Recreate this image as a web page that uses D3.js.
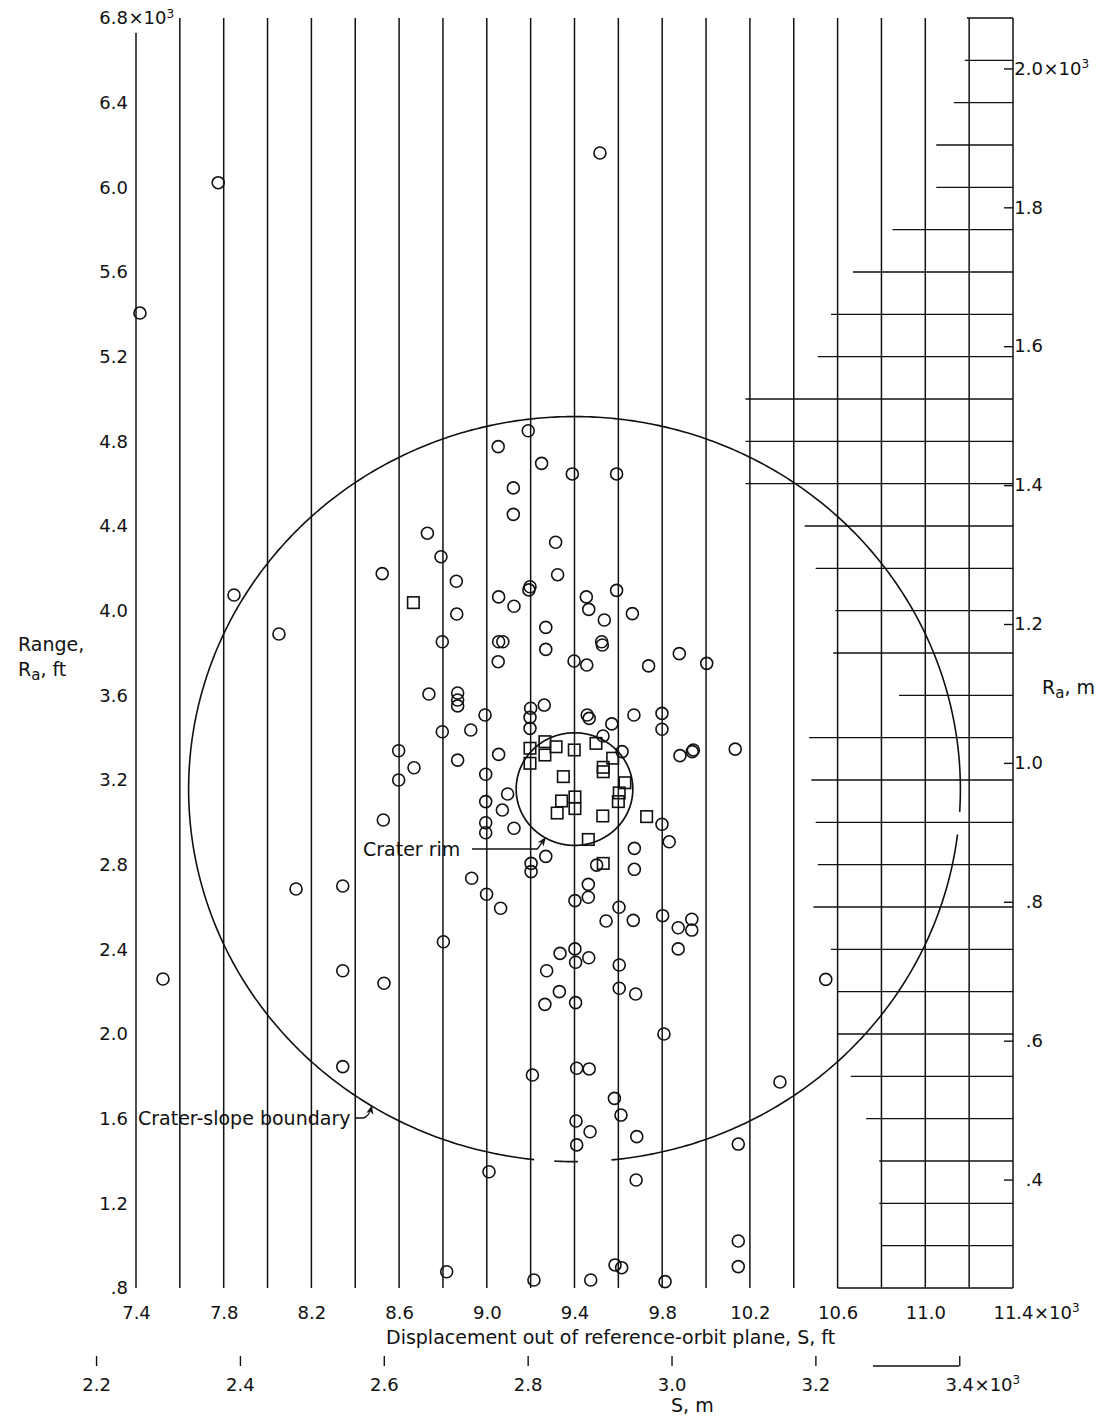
<!DOCTYPE html>
<html>
<head>
<meta charset="utf-8">
<script src="https://cdn.jsdelivr.net/npm/d3@7"></script>
<style>
  body { margin: 0; background: #fff; }
  svg { display: block; }
  text { font-family: "DejaVu Sans", sans-serif; fill: #111; }
</style>
</head>
<body>
<svg id="chart" width="1101" height="1417"></svg>
<script>
// Values in thousands of feet (ft axes) or thousands of metres (m axes)
const rangeTicksFt = [0.8, 1.2, 1.6, 2.0, 2.4, 2.8, 3.2, 3.6, 4.0, 4.4, 4.8, 5.2, 5.6, 6.0, 6.4, 6.8];
const dispTicksFt  = [7.4, 7.8, 8.2, 8.6, 9.0, 9.4, 9.8, 10.2, 10.6, 11.0, 11.4];
const rangeTicksM  = [0.4, 0.6, 0.8, 1.0, 1.2, 1.4, 1.6, 1.8, 2.0];
const dispTicksM   = [2.2, 2.4, 2.6, 2.8, 3.0, 3.2, 3.4];

// Vertical rules of the grid (S, ft)
const gridS = [7.4, 7.6, 7.8, 8.0, 8.2, 8.4, 8.6, 8.8, 9.0, 9.2, 9.4, 9.6, 9.8, 10.0,
               10.2, 10.4, 10.6, 10.8, 11.0, 11.2, 11.4];
// Horizontal rules: [Ra level, S where the rule begins]; they all run to the right edge
const gridRows = [
  [6.8, 11.19], [6.6, 11.18], [6.4, 11.13], [6.2, 11.05], [6.0, 11.05], [5.8, 10.85],
  [5.6, 10.67], [5.4, 10.57], [5.2, 10.51], [5.0, 10.18], [4.8, 10.18], [4.6, 10.18],
  [4.4, 10.45], [4.2, 10.50], [4.0, 10.59], [3.8, 10.58], [3.6, 10.88], [3.4, 10.47],
  [3.2, 10.48], [3.0, 10.50], [2.8, 10.51], [2.6, 10.49], [2.4, 10.57], [2.2, 10.60],
  [2.0, 10.60], [1.8, 10.66], [1.6, 10.73], [1.4, 10.79], [1.2, 10.79], [1.0, 10.80],
  [0.8, 10.60]
];

// Impact points [S, Ra] (thousands of ft)
const circlePoints = [
  [7.775,6.022],[9.516,6.162],[7.418,5.406],[7.847,4.074],[8.052,3.890],[7.523,2.260],
  [8.130,2.685],[8.343,2.699],[8.343,2.299],[8.343,1.846],[8.531,2.240],[10.546,2.258],
  [10.337,1.773],[10.147,1.480],[10.147,1.022],[10.147,0.901],
  [8.523,4.175],[8.528,3.011],[8.598,3.338],[8.598,3.200],[8.668,3.258],[8.729,4.366],
  [8.791,4.255],[8.861,4.139],[8.863,3.984],[8.797,3.853],[8.736,3.606],[8.867,3.611],
  [8.867,3.578],[8.867,3.550],[8.992,3.507],[8.797,3.428],[8.927,3.436],[8.867,3.294],
  [9.054,3.321],[8.995,3.227],[9.095,3.134],[8.995,3.098],[9.071,3.058],[8.995,2.998],
  [8.995,2.951],[9.124,2.972],[9.202,2.806],[9.202,2.767],[9.269,2.839],[9.501,2.798],
  [9.673,2.877],[9.673,2.778],[9.799,2.991],[9.832,2.908],
  [8.931,2.736],[8.999,2.660],[9.063,2.594],[9.463,2.707],[9.463,2.646],[9.402,2.630],
  [9.603,2.599],[9.544,2.534],[9.668,2.537],[9.802,2.559],[9.873,2.502],[9.935,2.542],
  [9.935,2.491],[9.873,2.402],[8.802,2.436],[9.334,2.381],[9.402,2.402],[9.405,2.339],
  [9.465,2.360],[9.273,2.299],[9.604,2.326],[9.331,2.200],[9.604,2.216],[9.679,2.189],
  [9.265,2.140],[9.405,2.148],[9.808,2.000],[9.410,1.838],[9.467,1.835],[9.208,1.806],
  [9.582,1.696],[9.612,1.617],[9.407,1.589],[9.471,1.538],[9.684,1.515],[9.410,1.476],
  [9.010,1.349],[9.681,1.310],[8.817,0.877],[9.215,0.838],[9.474,0.838],[9.585,0.909],
  [9.615,0.896],[9.813,0.830],
  [9.189,4.850],[9.052,4.775],[9.250,4.696],[9.390,4.646],[9.592,4.646],[9.121,4.580],
  [9.121,4.455],[9.314,4.323],[9.323,4.170],[9.197,4.113],[9.192,4.098],[9.592,4.096],
  [9.054,4.065],[9.454,4.065],[9.124,4.021],[9.465,4.006],[9.664,3.986],[9.536,3.956],
  [9.269,3.921],[9.054,3.853],[9.073,3.853],[9.269,3.817],[9.524,3.853],[9.527,3.838],
  [9.052,3.759],[9.398,3.762],[9.456,3.743],[9.738,3.739],[9.878,3.797],[10.003,3.751],
  [9.200,3.539],[9.262,3.554],[9.197,3.496],[9.197,3.444],[9.458,3.507],[9.467,3.491],
  [9.570,3.465],[9.671,3.507],[9.799,3.515],[9.799,3.440],[9.530,3.408],[9.617,3.334],
  [9.881,3.315],[9.942,3.342],[9.937,3.334],[10.133,3.346]
];
const squarePoints = [
  [8.665,4.038],[9.197,3.350],[9.265,3.381],[9.265,3.318],[9.316,3.357],[9.399,3.342],
  [9.498,3.373],[9.197,3.279],[9.574,3.303],[9.531,3.260],[9.531,3.239],[9.630,3.187],
  [9.349,3.216],[9.604,3.139],[9.600,3.098],[9.402,3.120],[9.341,3.101],[9.402,3.065],
  [9.321,3.044],[9.529,3.030],[9.729,3.027],[9.463,2.919],[9.531,2.806]
];

// Crater geometry (thousands of ft)
const craterCenter = [9.40, 3.157];
const rimRadius = 0.266;
const slopeRadius = 1.76;

const FT_PER_M = 3.28084;

const svg = d3.select("#chart");
const x = d3.scaleLinear().domain([7.4, 11.4]).range([136, 1013]);
const y = d3.scaleLinear().domain([0.8, 6.8]).range([1288, 18]);
const xM = d3.scaleLinear().domain(x.domain().map(v => v / FT_PER_M)).range(x.range());
const yM = d3.scaleLinear().domain(y.domain().map(v => v / FT_PER_M)).range(y.range());

const fmt = d => d < 1 ? "." + Math.round(d * 10) : d.toFixed(1);

// arrowhead
svg.append("defs").append("marker")
  .attr("id", "arrow").attr("viewBox", "0 0 10 10").attr("refX", 9).attr("refY", 5)
  .attr("markerWidth", 7).attr("markerHeight", 7).attr("orient", "auto")
  .append("path").attr("d", "M0,1 L10,5 L0,9 L3,5 Z").attr("fill", "#111");

// ---- grid ----
const grid = svg.append("g");
grid.selectAll("line.v").data(gridS).join("line")
  .attr("x1", d => x(d)).attr("x2", d => x(d))
  // the leftmost rule stops short of the corner label
  .attr("y1", d => d === 7.4 ? y(6.73) : y(6.8)).attr("y2", y(0.8))
  .attr("stroke", "#111").attr("stroke-width", 1.5);
grid.selectAll("line.h").data(gridRows).join("line")
  .attr("x1", d => x(d[1])).attr("x2", x(11.4))
  .attr("y1", d => y(d[0])).attr("y2", d => y(d[0]))
  .attr("stroke", "#111").attr("stroke-width", 1.3);

// ---- crater outlines ----
function ringPath(r, gaps) {
  const pts = d3.range(0, 360.5, 0.5);
  const line = d3.line()
    .defined(a => !gaps.some(g => a > g[0] && a < g[1]))
    .x(a => x(craterCenter[0] + r * Math.cos(a * Math.PI / 180)))
    .y(a => y(craterCenter[1] + r * Math.sin(a * Math.PI / 180)));
  return line(pts);
}
svg.append("path").attr("d", ringPath(slopeRadius, [[264.4, 266.8], [270.8, 275.3], [353.4, 356.5]]))
  .attr("fill", "none").attr("stroke", "#111").attr("stroke-width", 1.6);
svg.append("path").attr("d", ringPath(rimRadius, []))
  .attr("fill", "none").attr("stroke", "#111").attr("stroke-width", 1.7);

// ---- data marks ----
svg.append("g").selectAll("circle").data(circlePoints).join("circle")
  .attr("cx", d => x(d[0])).attr("cy", d => y(d[1])).attr("r", 6)
  .attr("fill", "none").attr("stroke", "#111").attr("stroke-width", 1.6);
const sq = 11.5;
svg.append("g").selectAll("rect").data(squarePoints).join("rect")
  .attr("x", d => x(d[0]) - sq / 2).attr("y", d => y(d[1]) - sq / 2)
  .attr("width", sq).attr("height", sq)
  .attr("fill", "none").attr("stroke", "#111").attr("stroke-width", 1.6);

// ---- axes ----
function styleAxis(g) {
  g.select(".domain").remove();
  g.selectAll("text").attr("font-size", 18).attr("fill", "#111")
    .attr("font-family", "DejaVu Sans, sans-serif");
  g.selectAll(".tick line").attr("stroke", "#111").attr("stroke-width", 1.4);
}
function addPower(textSel, xPos) {
  const t = d3.select(textSel.node().parentNode).append("text")
    .attr("x", xPos).attr("y", textSel.attr("y")).attr("dy", textSel.attr("dy"))
    .attr("font-size", 18).attr("text-anchor", "start").attr("fill", "#111");
  t.append("tspan").text("\u00d710");
  t.append("tspan").text("3").attr("font-size", 12).attr("dy", "-0.55em");
  return t;
}

// Left: Range, ft
const gL = svg.append("g").attr("transform", `translate(${x(7.4)},0)`)
  .call(d3.axisLeft(y).tickValues(rangeTicksFt).tickFormat(fmt).tickSize(0).tickPadding(8))
  .call(styleAxis);
gL.selectAll(".tick").filter(d => d === 6.8).each(function () {
  const txt = d3.select(this).select("text");
  addPower(txt, +txt.attr("x") + 0.5);
});

// Right: Ra, m
const gR = svg.append("g").attr("transform", `translate(${x(11.4)},0)`)
  .call(d3.axisRight(yM).tickValues(rangeTicksM).tickFormat(fmt).tickSizeInner(-9).tickSizeOuter(0))
  .call(styleAxis);
gR.selectAll(".tick text").attr("x", 30).attr("text-anchor", "end");
gR.selectAll(".tick").filter(d => d === 2.0).each(function () {
  addPower(d3.select(this).select("text"), 30.5);
});

// Bottom: S, ft
const gB = svg.append("g").attr("transform", `translate(0,${y(0.8)})`)
  .call(d3.axisBottom(x).tickValues(dispTicksFt).tickFormat(fmt).tickSize(0).tickPadding(18))
  .call(styleAxis);
gB.selectAll(".tick").filter(d => d === 11.4).each(function () {
  const txt = d3.select(this).select("text");
  addPower(txt, txt.node().getComputedTextLength() / 2 + 0.5);
});

// Bottom: S, m
const mBase = 1366;
const gM = svg.append("g").attr("transform", `translate(0,${mBase})`)
  .call(d3.axisBottom(xM).tickValues(dispTicksM).tickFormat(fmt).tickSizeInner(-10).tickSizeOuter(0).tickPadding(12))
  .call(styleAxis);
gM.selectAll(".tick").filter(d => d === 3.4).each(function () {
  const txt = d3.select(this).select("text");
  addPower(txt, txt.node().getComputedTextLength() / 2 + 0.5);
});
svg.append("line")
  .attr("x1", xM(3.28)).attr("x2", xM(3.4)).attr("y1", mBase).attr("y2", mBase)
  .attr("stroke", "#111").attr("stroke-width", 1.3);

// ---- axis titles ----
const lab = 19;
const rangeTitle = svg.append("text").attr("font-size", lab);
rangeTitle.append("tspan").attr("x", 18).attr("y", 651).text("Range,");
const raFt = rangeTitle.append("tspan").attr("x", 18).attr("y", 676);
raFt.append("tspan").text("R");
raFt.append("tspan").text("a").attr("font-size", 15).attr("dy", 4);
raFt.append("tspan").text(", ft").attr("dy", -4);

const raM = svg.append("text").attr("font-size", lab).attr("x", 1042).attr("y", 694);
raM.append("tspan").text("R");
raM.append("tspan").text("a").attr("font-size", 15).attr("dy", 4);
raM.append("tspan").text(", m").attr("dy", -4);

svg.append("text").attr("font-size", lab).attr("x", 386).attr("y", 1344)
  .text("Displacement out of reference-orbit plane, S, ft");
svg.append("text").attr("font-size", lab).attr("x", 671).attr("y", 1412).text("S, m");

// ---- annotations ----
function onRing(r, deg) {
  return [x(craterCenter[0] + r * Math.cos(deg * Math.PI / 180)),
          y(craterCenter[1] + r * Math.sin(deg * Math.PI / 180))];
}
const rimTip = onRing(rimRadius, 240);
svg.append("text").attr("font-size", lab).attr("x", 363).attr("y", 856).text("Crater rim");
svg.append("path")
  .attr("d", `M${472},${849} L${rimTip[0] - 8},${849} L${rimTip[0]},${rimTip[1]}`)
  .attr("fill", "none").attr("stroke", "#111").attr("stroke-width", 1.3)
  .attr("marker-end", "url(#arrow)");

const slopeTip = onRing(slopeRadius, 238.3);
svg.append("text").attr("font-size", lab).attr("x", 138).attr("y", 1125).text("Crater-slope boundary");
svg.append("path")
  .attr("d", `M${355},${1118} L${363},${1118} Q${369},${1117} ${slopeTip[0]},${slopeTip[1]}`)
  .attr("fill", "none").attr("stroke", "#111").attr("stroke-width", 1.3)
  .attr("marker-end", "url(#arrow)");
</script>
</body>
</html>
